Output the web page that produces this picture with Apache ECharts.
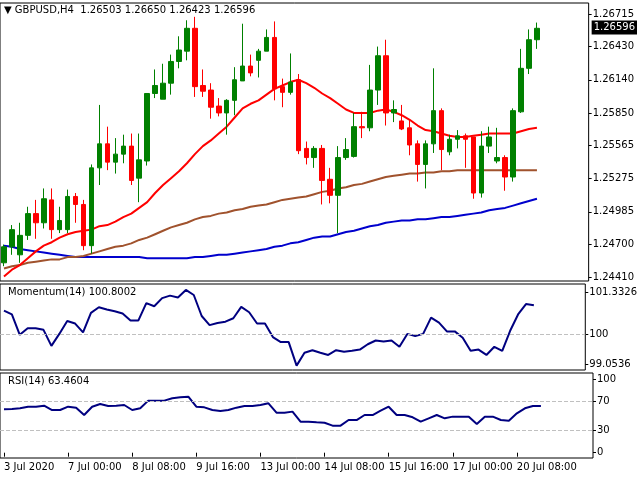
<!DOCTYPE html>
<html><head><meta charset="utf-8">
<script src="https://cdn.jsdelivr.net/npm/echarts@6/dist/echarts.min.js"></script>
<style>html,body{margin:0;padding:0;background:#fff}#c{width:640px;height:480px}</style>
</head><body><div id="c"></div>
<script>
// [open, close, low, high]
const candles = [
[1.2454,1.2468,1.2451,1.2470],[1.2468,1.2483,1.2461,1.2487],[1.2461,1.2478,1.2454,1.2489],[1.2478,1.2497,1.2474,1.2503],
[1.2497,1.2489,1.2475,1.2509],[1.2489,1.2510,1.2484,1.2519],[1.2509,1.2483,1.2475,1.2519],[1.2483,1.2491,1.2480,1.2503],
[1.2483,1.2512,1.2480,1.2518],[1.2512,1.2505,1.2489,1.2515],[1.2505,1.2469,1.2465,1.2509],[1.2469,1.2537,1.2462,1.2540],
[1.2537,1.2558,1.2522,1.2592],[1.2558,1.2542,1.2535,1.2573],[1.2542,1.2549,1.2532,1.2563],[1.2549,1.2556,1.2541,1.2566],
[1.2556,1.2526,1.2522,1.2567],[1.2528,1.2544,1.2507,1.2567],[1.2543,1.2602,1.2539,1.2602],[1.2602,1.2609,1.2598,1.2623],
[1.2597,1.2611,1.2597,1.2628],[1.2611,1.2630,1.2601,1.2636],[1.2630,1.2640,1.2624,1.2652],[1.2639,1.2659,1.2631,1.2666],
[1.2659,1.2608,1.2599,1.2669],[1.2609,1.2604,1.2599,1.2623],[1.2605,1.2590,1.2580,1.2611],[1.2591,1.2585,1.2582,1.2598],
[1.2585,1.2596,1.2566,1.2597],[1.2596,1.2614,1.2583,1.2625],[1.2613,1.2626,1.2613,1.2663],[1.2626,1.2620,1.2617,1.2636],
[1.2631,1.2639,1.2616,1.2641],[1.2639,1.2651,1.2639,1.2658],[1.2651,1.2606,1.2596,1.2665],[1.2608,1.2603,1.2590,1.2615],
[1.2603,1.2612,1.2601,1.2637],[1.2614,1.2552,1.2549,1.2619],[1.2554,1.2546,1.2540,1.2560],[1.2546,1.2554,1.2537,1.2556],
[1.2554,1.2526,1.2505,1.2557],[1.2527,1.2513,1.2506,1.2537],[1.2513,1.2546,1.2480,1.2556],[1.2546,1.2553,1.2544,1.2563],
[1.2547,1.2573,1.2546,1.2585],[1.2573,1.2572,1.2563,1.2586],[1.2572,1.2605,1.2569,1.2627],[1.2605,1.2635,1.2592,1.2643],
[1.2635,1.2585,1.2574,1.2649],[1.2585,1.2588,1.2577,1.2596],[1.2578,1.2571,1.2570,1.2592],[1.2572,1.2557,1.2548,1.2579],
[1.2558,1.2540,1.2525,1.2561],[1.2540,1.2558,1.2519,1.2561],[1.2558,1.2587,1.2550,1.2624],[1.2587,1.2553,1.2535,1.2589],
[1.2551,1.2562,1.2548,1.2566],[1.2562,1.2565,1.2554,1.2570],[1.2565,1.2562,1.2537,1.2567],[1.2564,1.2515,1.2510,1.2564],
[1.2515,1.2556,1.2511,1.2569],[1.2556,1.2564,1.2550,1.2573],[1.2543,1.2546,1.2541,1.2572],[1.2546,1.2529,1.2517,1.2548],
[1.2529,1.2587,1.2525,1.2589],[1.2586,1.2624,1.2585,1.2641],[1.2624,1.2649,1.2619,1.2658],[1.2649,1.2659,1.2641,1.2664]];
const maFast = [1.2442,1.2448,1.2452,1.2458,1.2464,1.2469,1.2472,1.2476,1.2479,1.2481,1.2482,1.2483,1.2486,1.2487,1.2490,1.2494,1.2497,1.2502,1.2507,1.2515,1.2522,1.2528,1.2534,1.2541,1.2549,1.2556,1.2561,1.2567,1.2573,1.2581,1.2589,1.2593,1.2596,1.2601,1.2606,1.2609,1.2612,1.2614,1.2611,1.2607,1.2602,1.2598,1.2593,1.2588,1.2585,1.2585,1.2585,1.2587,1.2588,1.2586,1.2583,1.2579,1.2574,1.2570,1.2569,1.2567,1.2565,1.2564,1.2564,1.2565,1.2566,1.2567,1.2567,1.2567,1.2567,1.2569,1.2571,1.2572];
const maMid = [1.2449,1.2451,1.2452,1.2454,1.2455,1.2456,1.2457,1.2457,1.2459,1.2459,1.2460,1.2462,1.2464,1.2466,1.2468,1.2469,1.2471,1.2474,1.2476,1.2479,1.2482,1.2485,1.2487,1.2489,1.2492,1.2494,1.2495,1.2497,1.2498,1.2500,1.2501,1.2503,1.2504,1.2505,1.2507,1.2509,1.2510,1.2511,1.2512,1.2514,1.2516,1.2517,1.2519,1.2520,1.2522,1.2523,1.2525,1.2527,1.2529,1.2530,1.2531,1.2532,1.2532,1.2533,1.2533,1.2534,1.2534,1.2535,1.2535,1.2535,1.2535,1.2535,1.2535,1.2535,1.2535,1.2535,1.2535,1.2535];
const maSlow = [1.2469,1.2468,1.2466,1.2465,1.2464,1.2463,1.2462,1.2461,1.2460,1.2459,1.2459,1.2459,1.2459,1.2459,1.2459,1.2459,1.2459,1.2459,1.2458,1.2458,1.2458,1.2458,1.2458,1.2458,1.2459,1.2459,1.2460,1.2461,1.2461,1.2462,1.2463,1.2464,1.2465,1.2466,1.2468,1.2469,1.2471,1.2472,1.2474,1.2476,1.2477,1.2477,1.2479,1.2481,1.2482,1.2484,1.2486,1.2487,1.2489,1.2490,1.2491,1.2491,1.2492,1.2492,1.2493,1.2494,1.2494,1.2495,1.2496,1.2497,1.2498,1.2500,1.2501,1.2502,1.2504,1.2506,1.2508,1.2510];
const momentum = [100.76,100.64,99.99,100.20,100.20,100.15,99.64,100.02,100.43,100.35,100.07,100.69,100.87,100.80,100.74,100.67,100.45,100.45,101.00,100.90,101.16,101.24,101.18,101.42,101.26,100.59,100.30,100.37,100.41,100.52,100.88,100.71,100.35,100.35,99.92,99.76,99.76,99.01,99.42,99.50,99.42,99.35,99.50,99.45,99.48,99.52,99.69,99.81,99.78,99.81,99.61,100.02,99.95,100.02,100.54,100.38,100.10,100.10,99.90,99.48,99.52,99.35,99.61,99.48,100.12,100.64,100.97,100.93];
const rsi = [58.8,59.2,60.2,62.4,62.4,63.8,57.9,57.9,62.4,61.1,51.1,62.4,66.1,63.4,63.8,64.7,57.9,60.2,70.6,70.6,70.6,73.8,75.1,76.0,62.4,61.5,57.9,56.6,57.9,61.1,63.4,63.4,64.7,67.0,54.3,54.3,55.7,42.1,42.1,41.2,40.7,36.7,36.7,44.3,44.3,51.1,51.1,57.0,62.4,51.1,51.1,48.0,42.1,46.6,51.1,46.6,48.9,48.9,48.9,38.9,48.9,48.9,44.3,43.4,53.4,60.2,63.4,63.4];
const xTickLabels = {0:'3 Jul 2020',8:'7 Jul 00:00',16:'8 Jul 08:00',24:'9 Jul 16:00',32:'13 Jul 00:00',40:'14 Jul 08:00',48:'15 Jul 16:00',56:'17 Jul 00:00',64:'20 Jul 08:00'};
const priceTicks = [1.26715,1.26430,1.26140,1.25850,1.25565,1.25275,1.24985,1.24700,1.24410];
const momTicks = [101.3326,100,99.0536];
const rsiTicks = [100,70,30,0];
const lastPrice = 1.26596;
const totalSlots = 74;

const cats = Array.from({length: totalSlots}, (_, i) => String(i));
const F = 'Tahoma, "DejaVu Sans", sans-serif';
const lbl = {color:'#000', fontSize:10, fontFamily:F, margin:4};
const PMIN = 1.24381, PMAX = 1.26811;
function yAx(grid, min, max, ticks, fmt){
  return {type:'value', gridIndex:grid, position:'right', min, max, scale:true,
    splitLine:{show:false}, axisLine:{show:false},
    axisTick:{show:true, customValues:ticks, length:3, lineStyle:{color:'#000'}},
    axisLabel:Object.assign({customValues:ticks, formatter:fmt}, lbl)};
}
function xAx(grid, show){
  return {type:'category', gridIndex:grid, data:cats, boundaryGap:true,
    axisLine:{show:false}, splitLine:{show:false},
    axisTick:{show:show, interval:(i)=>xTickLabels[i]!==undefined, length:4, lineStyle:{color:'#000'}, alignWithLabel:true},
    axisLabel:show?Object.assign({interval:(i)=>xTickLabels[i]!==undefined, formatter:(v,i)=>xTickLabels[i]||'', align:'left'}, lbl):{show:false}};
}
const lastAxis = {type:'value', gridIndex:0, position:'right', min:PMIN, max:PMAX,
  splitLine:{show:false}, axisLine:{show:false}, axisTick:{show:false},
  axisLabel:{customValues:[lastPrice], formatter:v=>v.toFixed(5), color:'#fff', backgroundColor:'#000',
    fontSize:10, fontFamily:F, padding:[2,2], margin:3}};
const chart = echarts.init(document.getElementById('c'));
chart.setOption({
  animation:false, backgroundColor:'#fff',
  grid:[
    {left:0, top:3, width:593, height:278, show:true, borderColor:'#000', borderWidth:1},
    {left:0, top:284, width:593, height:86, show:true, borderColor:'#000', borderWidth:1},
    {left:0, top:373, width:593, height:85, show:true, borderColor:'#000', borderWidth:1}
  ],
  xAxis:[xAx(0,false), xAx(1,false), xAx(2,true)],
  yAxis:[
    yAx(0, PMIN, PMAX, priceTicks, v=>v.toFixed(5)),
    yAx(1, 98.87, 101.61, momTicks, v=>(v===100?'100':v.toFixed(4))),
    yAx(2, -7.2, 108.1, rsiTicks, v=>String(Math.round(v))),
    lastAxis
  ],
  graphic:[
    {type:'text', left:4, top:5, style:{text:'▼ GBPUSD,H4  1.26503 1.26650 1.26423 1.26596', fontSize:10, fontFamily:F, fill:'#000'}},
    {type:'text', left:8, top:287, style:{text:'Momentum(14) 100.8002', fontSize:10, fontFamily:F, fill:'#000'}},
    {type:'text', left:8, top:376, style:{text:'RSI(14) 63.4604', fontSize:10, fontFamily:F, fill:'#000'}}
  ],
  series:[
    {type:'line', xAxisIndex:0, yAxisIndex:0, data:maSlow, symbol:'none', lineStyle:{color:'#0000cd', width:2}, z:2},
    {type:'line', xAxisIndex:0, yAxisIndex:0, data:maMid, symbol:'none', lineStyle:{color:'#a0522d', width:2}, z:2},
    {type:'line', xAxisIndex:0, yAxisIndex:0, data:maFast, symbol:'none', lineStyle:{color:'#ff0000', width:2}, z:3},
    {type:'candlestick', xAxisIndex:0, yAxisIndex:0, data:candles, barWidth:5, z:4,
      itemStyle:{color:'#008000', color0:'#ff0000', borderColor:'#008000', borderColor0:'#ff0000', borderWidth:1},
      markLine:{silent:true, symbol:'none', animation:false, label:{show:false},
        lineStyle:{color:'#000', type:'solid', width:1}, data:[{yAxis:lastPrice}]}},
    {type:'line', xAxisIndex:1, yAxisIndex:1, data:momentum, symbol:'none', lineStyle:{color:'#000080', width:2},
      markLine:{silent:true, symbol:'none', label:{show:false}, lineStyle:{color:'#c0c0c0', type:'dashed', width:1}, data:[{yAxis:100}]}},
    {type:'line', xAxisIndex:2, yAxisIndex:2, data:rsi, symbol:'none', lineStyle:{color:'#000080', width:2},
      markLine:{silent:true, symbol:'none', label:{show:false}, lineStyle:{color:'#c0c0c0', type:'dashed', width:1}, data:[{yAxis:70},{yAxis:30}]}}
  ]
});
</script></body></html>
